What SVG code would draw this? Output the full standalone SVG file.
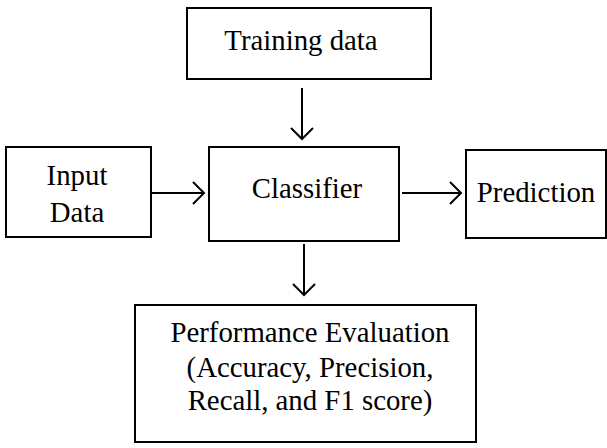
<svg xmlns="http://www.w3.org/2000/svg" width="607" height="448" viewBox="0 0 607 448">
<style>
.box{fill:#fff;stroke:#000;stroke-width:2}
.t{font-family:"Liberation Serif","Times New Roman",serif;font-size:28.8px;fill:#000;text-anchor:middle}
.c{fill:none;stroke:#000;stroke-width:2}
</style>
<rect width="607" height="448" fill="#fff"/>
<g id="training">
<rect class="box" x="187" y="8" width="244" height="71"/>
<text class="t" x="301" y="50">Training data</text>
</g>
<g id="input">
<rect class="box" x="6" y="147" width="145" height="90"/>
<text class="t" x="77" y="185">Input</text>
<text class="t" x="77" y="222">Data</text>
</g>
<g id="classifier">
<rect class="box" x="209" y="147" width="190" height="94"/>
<text class="t" x="307" y="198">Classifier</text>
</g>
<g id="prediction">
<rect class="box" x="466" y="150" width="140" height="88"/>
<text class="t" x="536" y="202">Prediction</text>
</g>
<g id="performance">
<rect class="box" x="135" y="305" width="341" height="137"/>
<text class="t" x="310" y="342">Performance Evaluation</text>
<text class="t" x="310" y="377">(Accuracy, Precision,</text>
<text class="t" x="310" y="410">Recall, and F1 score)</text>
</g>
<g id="connectors">
<path class="c" d="M302 88V139M291 128L302 139L313 128"/>
<path class="c" d="M151 193H204M193 182L204 193L193 204"/>
<path class="c" d="M402 193H461M450 182L461 193L450 204"/>
<path class="c" d="M304 244V295M293 284L304 295L315 284"/>
</g>
</svg>
